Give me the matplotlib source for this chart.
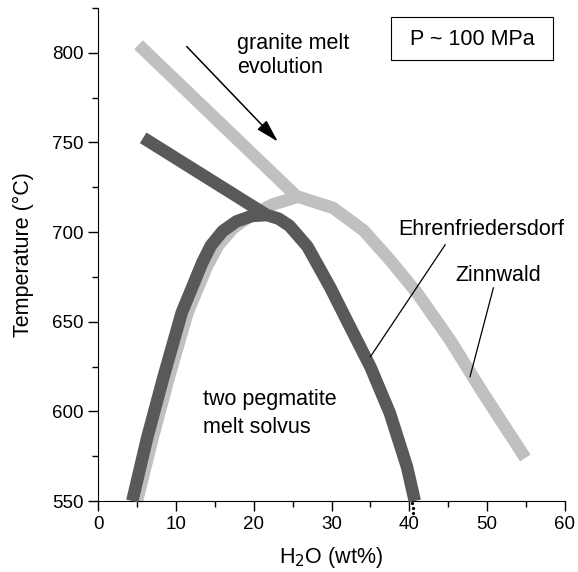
import numpy as np
import matplotlib
matplotlib.use("Agg")
import matplotlib.pyplot as plt
from matplotlib.patches import Rectangle
from matplotlib.ticker import MultipleLocator

plt.rcParams.update({
    "font.family": ["Liberation Sans", "DejaVu Sans"],
    "font.size": 15.5,
})

# Zinnwald: granite melt trend + solvus dome (light grey)
zinn_trend_x = [5.2, 25.5, 30.2, 34.1, 37.5, 41.0, 45.2, 49.5, 54.9]
zinn_trend_t = [804.5, 720.0, 713.5, 701.0, 684.5, 666.0, 640.0, 610.0, 574.0]
zinn_dome_x = [5.0, 7.0, 9.1, 11.5, 14.0, 15.5, 17.3, 19.5, 22.5, 25.5]
zinn_dome_t = [550.0, 585.0, 619.0, 655.0, 681.0, 693.0, 702.0, 709.0, 715.5, 719.5]

# Ehrenfriedersdorf: trend + solvus dome (dark grey)
ehr_trend_x = [5.8, 21.5]
ehr_trend_t = [752.6, 710.0]
ehr_dome_x = [4.4, 6.3, 8.4, 10.75, 13.4, 14.5, 16.0, 17.8, 19.8, 21.7, 23.2,
              24.6, 26.9, 29.8, 32.4, 35.0, 37.5, 39.7, 40.7]
ehr_dome_t = [550.0, 585.0, 619.0, 655.0, 683.0, 692.5, 700.5, 706.0, 709.0,
              709.5, 707.5, 703.5, 692.0, 669.4, 647.0, 624.8, 599.0, 569.0, 550.0]

LIGHT = "#c0c0c0"
DARK = "#595959"

fig = plt.figure(figsize=(5.78, 5.72), dpi=100)
ax = fig.add_axes([0.1696, 0.1241, 0.8079, 0.8619])

lw = 9
for xs, ts in [(zinn_trend_x, zinn_trend_t), (zinn_dome_x, zinn_dome_t)]:
    ax.plot(xs, ts, color=LIGHT, linewidth=lw, solid_capstyle="butt",
            solid_joinstyle="round", clip_on=False, zorder=2)
for xs, ts in [(ehr_trend_x, ehr_trend_t), (ehr_dome_x, ehr_dome_t)]:
    ax.plot(xs, ts, color=DARK, linewidth=lw, solid_capstyle="butt",
            solid_joinstyle="round", clip_on=False, zorder=3)

ax.set_xlim(0, 60)
ax.set_ylim(550, 825)
ax.xaxis.set_major_locator(MultipleLocator(10))
ax.xaxis.set_minor_locator(MultipleLocator(5))
ax.yaxis.set_minor_locator(MultipleLocator(25))
ax.set_yticks([550, 600, 650, 700, 750, 800])
ax.tick_params(which="major", direction="out", length=7, width=1, labelsize=13.5)
ax.tick_params(which="minor", direction="out", length=4, width=1)
ax.spines["top"].set_visible(False)
ax.spines["right"].set_visible(False)

ax.set_xlabel(r"H$_2$O (wt%)", fontsize=15.5, labelpad=9)
ax.set_ylabel("Temperature (°C)", fontsize=15.5, labelpad=13)

# annotations
ax.text(17.9, 802.1, "granite melt", ha="left", va="baseline")
ax.text(17.9, 789.0, "evolution", ha="left", va="baseline")
ax.annotate("", xy=(23.1, 750.5), xytext=(11.4, 803.5),
            arrowprops=dict(arrowstyle="-|>,head_length=0.9,head_width=0.25",
                            color="black", lw=1.1, shrinkA=0, shrinkB=0))

ax.add_patch(Rectangle((37.6, 796.1), 20.8, 23.8, fill=False, ec="black",
                       lw=0.8, clip_on=False, zorder=4))
ax.text(40.1, 804.1, "P ~ 100 MPa", ha="left", va="baseline")

ax.text(38.6, 698.4, "Ehrenfriedersdorf", ha="left", va="baseline")
ax.plot([44.6, 35.0], [692.9, 630.5], color="black", lw=0.9, zorder=4)
ax.text(45.9, 672.8, "Zinnwald", ha="left", va="baseline")
ax.plot([50.8, 47.8], [668.9, 619.4], color="black", lw=0.9, zorder=4)

ax.text(13.5, 603.6, "two pegmatite", ha="left", va="baseline")
ax.text(13.5, 588.0, "melt solvus", ha="left", va="baseline")

# small dotted mark below the axis near 40 wt%
ax.plot([40.3, 40.45, 40.5], [548.8, 546.0, 543.5], linestyle="none",
        marker="o", markersize=1.3, color="black", clip_on=False)

plt.savefig("out.png", dpi=100)
